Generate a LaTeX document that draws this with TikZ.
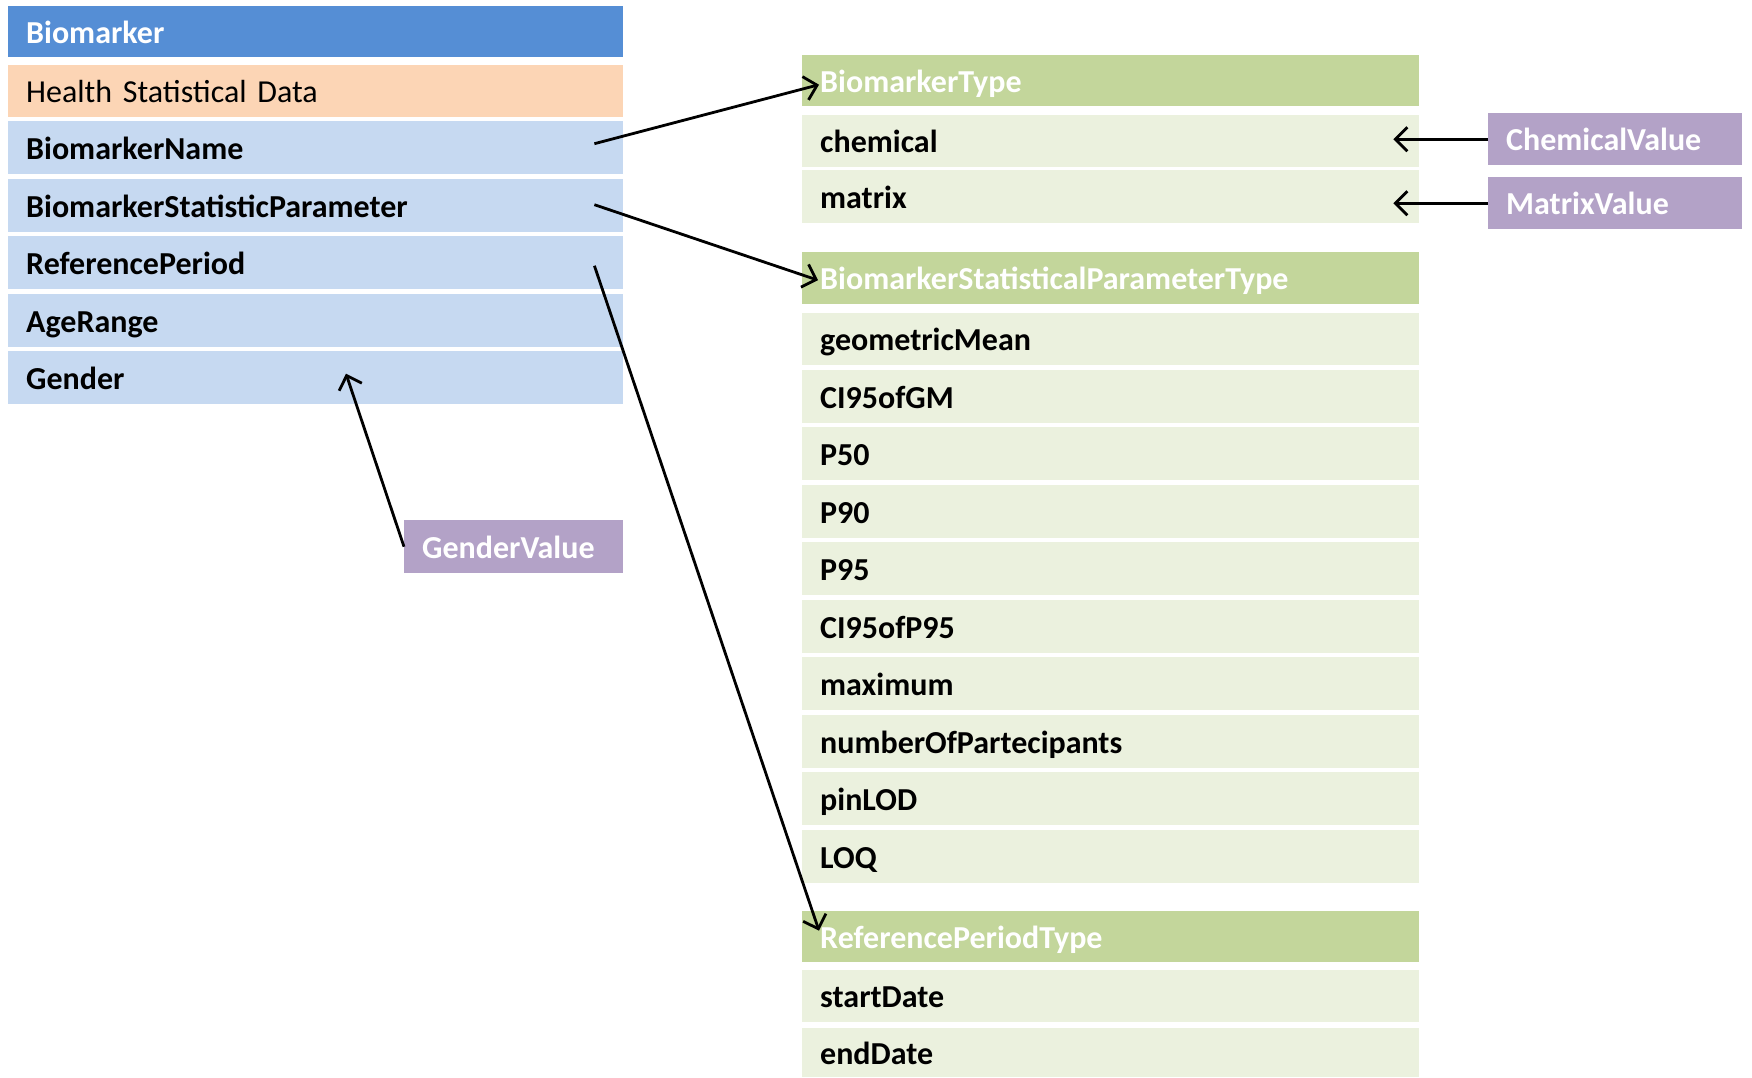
\documentclass[tikz,border=0pt]{standalone}
\usepackage{fontspec}
\setmainfont{Carlito}
\usetikzlibrary{arrows.meta,calc}
\definecolor{hdrblue}{HTML}{558ED5}
\definecolor{peach}{HTML}{FCD5B5}
\definecolor{rowblue}{HTML}{C6D9F1}
\definecolor{hdrgreen}{HTML}{C3D69B}
\definecolor{rowgreen}{HTML}{EBF1DE}
\definecolor{purp}{HTML}{B3A2C7}
\newcommand{\fsz}{\fontsize{32}{37}\selectfont}
\tikzset{
  cellbase/.style={anchor=north west, inner xsep=18pt, inner ysep=0pt, align=left,
    minimum height=53pt, text height=23pt, text depth=0pt, font=\fsz\bfseries, text=black},
  lcell/.style={cellbase, text width=579pt},
  rcell/.style={cellbase, text width=581pt},
  lhead/.style={lcell, fill=hdrblue, text=white},
  lsub/.style={lcell, fill=peach, font=\fsz},
  lrow/.style={lcell, fill=rowblue},
  rhead/.style={rcell, fill=hdrgreen, text=white},
  rrow/.style={rcell, fill=rowgreen},
  pval/.style={cellbase, fill=purp, text=white},
  arr/.style={-{Straight Barb[length=12pt,width=24pt]}, line width=2.8pt, black}
}
\begin{document}
\begin{tikzpicture}[x=1pt,y=-1pt]
\useasboundingbox (0,0) rectangle (1752,1077);
% left table
\node[lhead, minimum height=51pt] (bm) at (8,6) {Biomarker};
\node[lsub, minimum height=52pt] (hsd) at (8,65) {Health Statistical Data};
\node[lrow] (bn) at (8,121) {BiomarkerName};
\node[lrow] (bsp) at (8,179) {BiomarkerStatisticParameter};
\node[lrow] (rp) at (8,236) {ReferencePeriod};
\node[lrow] (ar) at (8,294) {AgeRange};
\node[lrow] (gd) at (8,351) {Gender};
\node[pval, text width=183pt] (gv) at (404,520) {GenderValue};
% right table: BiomarkerType
\node[rhead, minimum height=51pt] (bt) at (802,55) {BiomarkerType};
\node[rrow, minimum height=52pt] (ch) at (802,115) {chemical};
\node[rrow] (mx) at (802,170) {matrix};
\node[pval, text width=218pt, minimum height=52pt] (cv) at (1488,113) {ChemicalValue};
\node[pval, text width=218pt, minimum height=52pt] (mv) at (1488,177) {MatrixValue};
% BiomarkerStatisticalParameterType
\node[rhead, minimum height=52pt] (bspt) at (802,252) {BiomarkerStatisticalParameterType};
\node[rrow, minimum height=52pt] (r1) at (802,313) {geometricMean};
\node[rrow] (r2) at (802,370) {CI95ofGM};
\node[rrow] (r3) at (802,427) {P50};
\node[rrow] (r4) at (802,485) {P90};
\node[rrow] (r5) at (802,542) {P95};
\node[rrow] (r6) at (802,600) {CI95ofP95};
\node[rrow] (r7) at (802,657) {maximum};
\node[rrow] (r8) at (802,715) {numberOfPartecipants};
\node[rrow] (r9) at (802,772) {pinLOD};
\node[rrow] (r10) at (802,830) {LOQ};
% ReferencePeriodType
\node[rhead, minimum height=51pt] (rpt) at (802,911) {ReferencePeriodType};
\node[rrow, minimum height=52pt] (sd) at (802,970) {startDate};
\node[rrow, minimum height=49pt] (ed) at (802,1028) {endDate};
% connectors
\draw[arr] ([xshift=-29pt,yshift=4pt]bn.east) -- ([xshift=17pt,yshift=-4pt]bt.west);
\draw[arr] ([xshift=-29pt,yshift=1pt]bsp.east) -- ([xshift=16pt,yshift=-2pt]bspt.west);
\draw[arr] ([xshift=-29pt,yshift=-3pt]rp.east) -- ([xshift=17pt,yshift=6pt]rpt.west);
\draw[arr] (gv.west) -- ([xshift=338pt,yshift=4pt]gd.west);
\coordinate (che) at ([xshift=-26pt]ch.east);
\coordinate (mxe) at ([xshift=-26pt]mx.east);
\draw[arr] (cv.west) -- (che |- cv.west);
\draw[arr] (mv.west) -- (mxe |- mv.west);
\end{tikzpicture}
\end{document}
